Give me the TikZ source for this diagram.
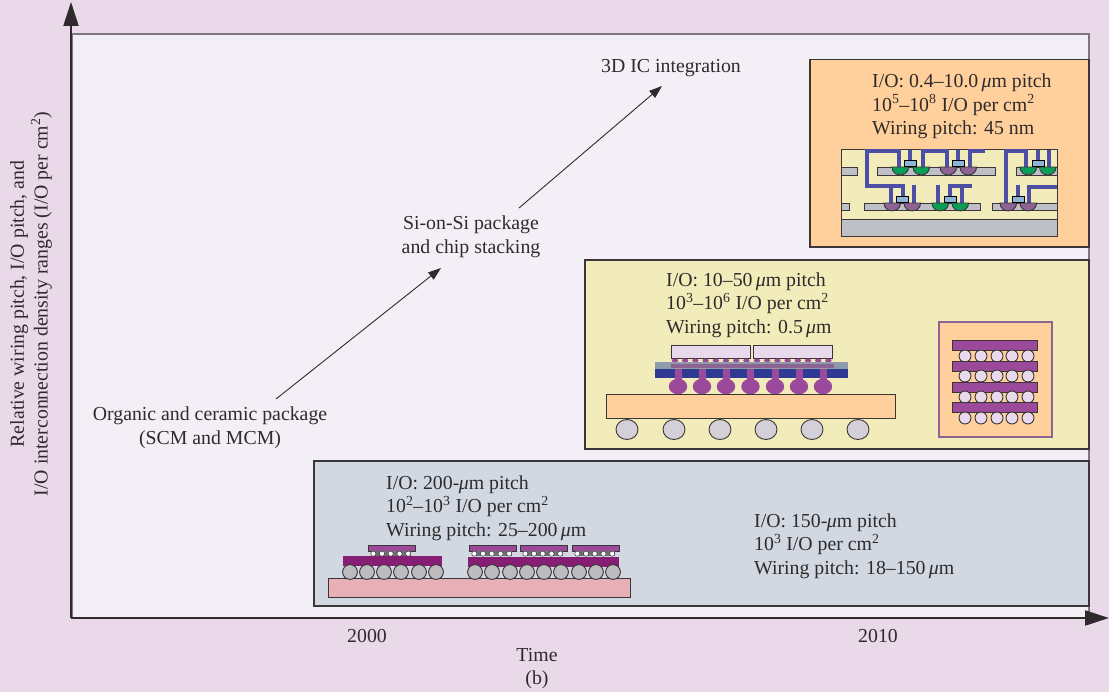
\documentclass[tikz,border=0pt]{standalone}
\usepackage{fontspec}
\setmainfont{Liberation Serif}
\usetikzlibrary{arrows.meta}
\definecolor{bgpink}{HTML}{EAD9E9}
\definecolor{plotbg}{HTML}{F2EFF7}
\definecolor{orangebox}{HTML}{FFD09B}
\definecolor{yellowbox}{HTML}{F2ECBA}
\definecolor{greybox}{HTML}{D1D8E2}
\definecolor{edge}{HTML}{3A3536}
\definecolor{inktxt}{HTML}{2F2A2B}
\definecolor{wire}{HTML}{4D4FA5}
\definecolor{siliver}{HTML}{BEC0C6}
\definecolor{padblue}{HTML}{8FB4D9}
\definecolor{greenb}{HTML}{0B9E57}
\definecolor{mauveb}{HTML}{8D6393}
\definecolor{purp}{HTML}{9B4A9B}
\definecolor{deepp}{HTML}{861F73}
\definecolor{lilac}{HTML}{E9D9EC}
\definecolor{navy}{HTML}{2E3A93}
\definecolor{slate}{HTML}{8D9BAB}
\definecolor{ballgrey}{HTML}{D4D0DA}
\definecolor{ballmid}{HTML}{BCBCC0}
\definecolor{pinkboard}{HTML}{E8AFB6}
\tikzset{
  x=1pt,y=-1pt,
  txt/.style={inner sep=0pt,text=inktxt,font=\fontsize{19.8}{23.6}\selectfont,align=left},
  ctxt/.style={txt,align=center},
  panel/.style={draw=edge,line width=1.2pt},
  axisline/.style={draw=inktxt,line width=2.2pt,-{Triangle[length=24pt,width=15pt]}},
  trend/.style={draw=inktxt,line width=0.9pt,-{Triangle[length=13pt,width=9pt]}},
  part/.style={draw=edge,line width=0.9pt},
  wireline/.style={draw=wire,line width=4pt,line join=miter},
  bar/.style={part,fill=siliver},
  pad/.style={draw=black,line width=1pt,fill=padblue},
}
\newcommand{\um}{\,{\itshape μ}m}
\newcommand{\hb}[3]{\path[part,fill=#3] (#1,#2) .. controls (#1,#2+10.5) and (#1+16.5,#2+10.5) .. (#1+16.5,#2) -- cycle;}
\begin{document}
\begin{tikzpicture}
\useasboundingbox (0,0) rectangle (1109,692);
\fill[bgpink] (0,0) rectangle (1109,692);
\path[fill=plotbg,draw=edge!60!bgpink,line width=1.2pt] (72,34) rectangle (1089,618);
% panels
\path[panel,fill=orangebox] (810,59.5) rectangle (1089,247);
\path[panel,fill=yellowbox] (585,260) rectangle (1089,449);
\path[panel,fill=greybox] (314,461) rectangle (1089,606);
% axes
\coordinate (origin) at (71,618);
\coordinate (ytip) at (71,2);
\coordinate (xtip) at (1109,618);
\draw[axisline] (origin) -- (ytip);
\draw[axisline] (origin) -- (xtip);
% 3D integration drawing
\path[part,fill=yellowbox] (841,149.5) rectangle (1057,236);
\path[part,fill=siliver] (841,219) rectangle (1057,236);
\foreach \a/\b in {841/857,877/995,1016/1057}{\path[bar] (\a,167) rectangle (\b,175);}
\foreach \a/\b in {841/849,864/980,992/1057}{\path[bar] (\a,203) rectangle (\b,210);}
\draw[wireline] (898.5,167) -- (898.5,151.5) -- (867,151.5) -- (867,186) -- (903,186) -- (903,196);
\draw[wireline] (891,186) -- (891,203);
\draw[wireline] (910,150) -- (910,161);
\draw[wireline] (923,167) -- (923,151.5) -- (947,151.5) -- (947,167);
\draw[wireline] (958,150) -- (958,161);
\draw[wireline] (970,167) -- (970,151.5) -- (985,151.5);
\draw[wireline] (914,185) -- (914,203);
\draw[wireline] (938,185) -- (938,203);
\draw[wireline] (950,196) -- (950,186.5) -- (972,186.5);
\draw[wireline] (962,186.5) -- (962,203);
\draw[wireline] (1006,203) -- (1006,151.5) -- (1026,151.5) -- (1026,167);
\draw[wireline] (1038,150) -- (1038,161);
\draw[wireline] (1049,150) -- (1049,167);
\draw[wireline] (1018,185) -- (1018,196);
\draw[wireline] (1029,203) -- (1029,187) -- (1057,187);
\foreach \x in {892,913,1020,1039.5}{\hb{\x}{167}{greenb}}
\foreach \x in {940,960}{\hb{\x}{167}{mauveb}}
\foreach \x in {884,904,1000,1020}{\hb{\x}{203}{mauveb}}
\foreach \x in {932,952}{\hb{\x}{203}{greenb}}
\foreach \x in {904,952,1032}{\path[pad] (\x,161) rectangle (\x+12,167);}
\foreach \x in {896,944,1012}{\path[pad] (\x,196.5) rectangle (\x+12,203);}
% Si-on-Si drawing
\foreach \a/\b in {671/750,753/832}{\path[part,fill=lilac] (\a,345.5) rectangle (\b,358);}
\foreach \i in {0,...,7}{
  \fill[purp] (675+\i*10.2,360.5) ellipse (3.2 and 2);
  \fill[purp] (757+\i*10.2,360.5) ellipse (3.2 and 2);
}
\fill[slate] (655,362) rectangle (848,369.5);
\fill[mauveb] (671,364) rectangle (834,368);
\fill[navy] (655,369.5) rectangle (848,378);
\foreach \x in {678,702,726,750.5,775,799,823}{
  \fill[purp] (\x-3.5,369) rectangle (\x+3.5,380);
  \fill[purp] (\x,386.5) ellipse (9.2 and 7.8);
}
\path[part,fill=orangebox] (606,394) rectangle (895,418);
\foreach \x in {627,674,720,766,812,858}{\path[part,fill=ballgrey] (\x,429.5) ellipse (11 and 10);}
% stack drawing
\path[draw=mauveb,fill=orangebox,line width=1.6pt] (939,322) rectangle (1052,437);
\foreach \t/\c in {340/356,361/376,382/397,402/418}{
  \path[part,fill=purp] (952,\t) rectangle (1037,\t+10);
  \foreach \x in {965,981,997,1012,1028}{\path[part,fill=lilac] (\x,\c) circle (6);}
}
% flip-chip drawing
\path[part,fill=pinkboard] (328,578) rectangle (630,597);
\fill[deepp] (343,556) rectangle (442,566);
\fill[deepp] (468,557) rectangle (619,567);
\foreach \x in {350,367,384,401,419,436,475,492,510,527,544,561,579,596,613}{\path[part,fill=ballmid] (\x,572) circle (7.4);}
\foreach \x in {368,469,520,572}{
  \path[part,fill=purp] (\x,545) rectangle (\x+47,551);
  \fill[edge!65!greybox] (\x+4,551) rectangle (\x+43,556);
  \foreach \d in {6.8,15.5,24.2,33,41.7}{\path[draw=edge,line width=0.5pt,fill=white] (\x+\d-1.5,553.7) circle (2.6);}
}
% labels
\node[txt,anchor=west] (top3d) at (601,68) {3D IC integration};
\node[ctxt] (sionsi) at (471,236.5) {Si-on-Si package\\and chip stacking};
\node[ctxt] (organic) at (210,428) {Organic and ceramic package\\(SCM and MCM)};
\coordinate (a1) at (276,399);
\coordinate (a2) at (441,268);
\coordinate (b1) at (519,208);
\coordinate (b2) at (662,86);
\draw[trend] (a1) -- (a2);
\draw[trend] (b1) -- (b2);
\node[txt,anchor=west] (orangetxt) at (872,106.5) {I/O: 0.4–10.0\um{} pitch\\10\textsuperscript{5}–10\textsuperscript{8} I/O per cm\textsuperscript{2}\\Wiring pitch: 45 nm};
\node[txt,anchor=west] (yellowtxt) at (666,305) {I/O: 10–50\um{} pitch\\10\textsuperscript{3}–10\textsuperscript{6} I/O per cm\textsuperscript{2}\\Wiring pitch: 0.5\um};
\node[txt,anchor=west] (greytxtl) at (386,508) {I/O: 200-\kern-0.5pt{\itshape μ}m pitch\\10\textsuperscript{2}–10\textsuperscript{3} I/O per cm\textsuperscript{2}\\Wiring pitch: 25–200\um};
\node[txt,anchor=west] (greytxtr) at (754,546) {I/O: 150-\kern-0.5pt{\itshape μ}m pitch\\10\textsuperscript{3} I/O per cm\textsuperscript{2}\\Wiring pitch: 18–150\um};
\node[txt] (y2000) at (367,636) {2000};
\node[txt] (y2010) at (878,636) {2010};
\node[ctxt] (timelbl) at (537,668.5) {Time\\(b)};
\node[ctxt,rotate=90] (ylbl) at (31,304) {Relative wiring pitch, I/O pitch, and\\I/O interconnection density ranges (I/O per cm\textsuperscript{2})};
\end{tikzpicture}
\end{document}
